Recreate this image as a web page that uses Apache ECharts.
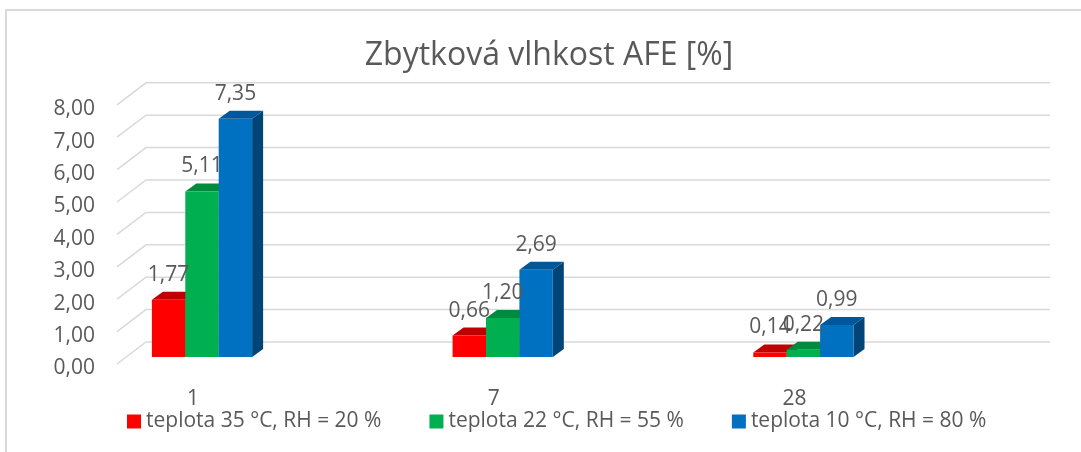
<!DOCTYPE html>
<html>
<head>
<meta charset="utf-8">
<script src="https://cdn.jsdelivr.net/npm/echarts@6/dist/echarts.min.js"></script>
<style>
  html, body { margin: 0; padding: 0; background: #ffffff; }
  #chart { width: 1081px; height: 452px; }
</style>
</head>
<body>
<div id="chart"></div>
<script>
// ---- data ----
const categories = ['1', '7', '28'];
const seriesNames = [
  'teplota 35 °C, RH = 20 %',
  'teplota 22 °C, RH = 55 %',
  'teplota 10 °C, RH = 80 %'
];
const valuesHot = [1.77, 0.66, 0.14];
const valuesMid = [5.11, 1.20, 0.22];
const valuesCold = [7.35, 2.69, 0.99];
const yTicks = [0, 1, 2, 3, 4, 5, 6, 7, 8];

// ---- styling ----
const FONT = 'Open Sans';
const TEXT = '#595959';
const GRID_COLOR = '#d9d9d9';
const LABEL_SIZE = 21;
// depth of the 3D boxes
const DEPTH_X = 11, DEPTH_Y = 8;
// wall gridlines: front edge, back edge and horizontal extent
const FRONT_DY = 7, BACK_DY = -15, WALL_LEFT = 117, WALL_CORNER = 146, WALL_RIGHT = 1050;

const faces = [
  { front: '#FF0000', top: '#C00000', side: '#A00000' },
  { front: '#00B050', top: '#008A3E', side: '#007534' },
  { front: '#0070C0', top: '#00589A', side: '#004478' }
];

function fmt(v) { return v.toFixed(2).replace('.', ','); }

// 3D box: side, top and front faces plus the value label
function boxRenderer(slot) {
  return function (params, api) {
    const cat = api.value(0), val = api.value(1);
    const top = api.coord([cat, val]);
    const base = api.coord([cat, 0]);
    const band = api.size([1, 0])[0];
    const w = band / 9;
    const x0 = top[0] - 1.5 * w + slot * w, x1 = x0 + w;
    const yt = top[1], yb = base[1];
    const c = faces[slot];
    return {
      type: 'group',
      children: [
        { type: 'polygon', shape: { points: [[x1, yt], [x1 + DEPTH_X, yt - DEPTH_Y], [x1 + DEPTH_X, yb - DEPTH_Y], [x1, yb]] }, style: { fill: c.side } },
        { type: 'polygon', shape: { points: [[x0, yt], [x0 + DEPTH_X, yt - DEPTH_Y], [x1 + DEPTH_X, yt - DEPTH_Y], [x1, yt]] }, style: { fill: c.top } },
        { type: 'rect', shape: { x: x0, y: yt, width: w, height: yb - yt }, style: { fill: c.front } },
        { type: 'text', z2: 100, x: (x0 + x1) / 2, y: yt - 25,
          style: { text: fmt(val), fill: TEXT, font: LABEL_SIZE + 'px "' + FONT + '"', align: 'center', verticalAlign: 'middle' } }
      ]
    };
  };
}

// wall gridline: slanted floor edge then horizontal back-wall line
function gridRenderer(params, api) {
  const y = api.coord([0, api.value(1)])[1];
  return {
    type: 'polyline',
    shape: { points: [[WALL_LEFT, y + FRONT_DY], [WALL_CORNER, y + BACK_DY], [WALL_RIGHT, y + BACK_DY]] },
    style: { stroke: GRID_COLOR, lineWidth: 1.5, fill: null }
  };
}

const seriesValues = [valuesHot, valuesMid, valuesCold];

const chart = echarts.init(document.getElementById('chart'), null, { renderer: 'canvas' });
chart.setOption({
  backgroundColor: '#ffffff',
  animation: false,
  textStyle: { fontFamily: FONT },
  title: {
    text: 'Zbytková vlhkost AFE [%]',
    left: 549, top: 34, textAlign: 'center', padding: 0,
    textStyle: { fontFamily: FONT, fontSize: 32, fontWeight: 'normal', color: TEXT, lineHeight: 44 }
  },
  legend: {
    data: seriesNames,
    left: 127, top: 411, padding: 0,
    icon: 'rect', itemWidth: 14, itemHeight: 14, itemGap: 48,
    textStyle: { fontFamily: FONT, fontSize: LABEL_SIZE, color: TEXT }
  },
  graphic: [{
    type: 'polyline',
    shape: { points: [[6, 452], [6, 10], [1081, 10]] },
    style: { stroke: GRID_COLOR, lineWidth: 2, fill: null },
    silent: true
  }],
  grid: [
    { left: 51.65, right: 127.25, top: 97.8, bottom: 95 },
    { left: 103, right: 127, top: 109.3, bottom: 83.5 }
  ],
  xAxis: [
    { type: 'category', gridIndex: 0, data: categories,
      axisLine: { show: false }, axisTick: { show: false },
      axisLabel: { margin: 32, padding: [0, 18, 0, 0], fontFamily: FONT, fontSize: LABEL_SIZE, color: TEXT } },
    { type: 'value', gridIndex: 1, show: false }
  ],
  yAxis: [
    { type: 'value', gridIndex: 0, min: 0, max: 8, interval: 1, show: false },
    { type: 'value', gridIndex: 1, min: 0, max: 8, interval: 1,
      axisLine: { show: false }, axisTick: { show: false }, splitLine: { show: false },
      axisLabel: { margin: 8, formatter: fmt, fontFamily: FONT, fontSize: LABEL_SIZE, color: TEXT } }
  ],
  series: [
    { type: 'custom', name: 'walls', xAxisIndex: 0, yAxisIndex: 0, z: 1, silent: true,
      renderItem: gridRenderer, data: yTicks.map(v => [0, v]) }
  ].concat(seriesValues.map((vals, i) => ({
    type: 'custom', name: seriesNames[i], xAxisIndex: 0, yAxisIndex: 0, z: 2,
    itemStyle: { color: faces[i].front },
    renderItem: boxRenderer(i),
    data: vals.map((v, k) => [k, v])
  })))
});
</script>
</body>
</html>
